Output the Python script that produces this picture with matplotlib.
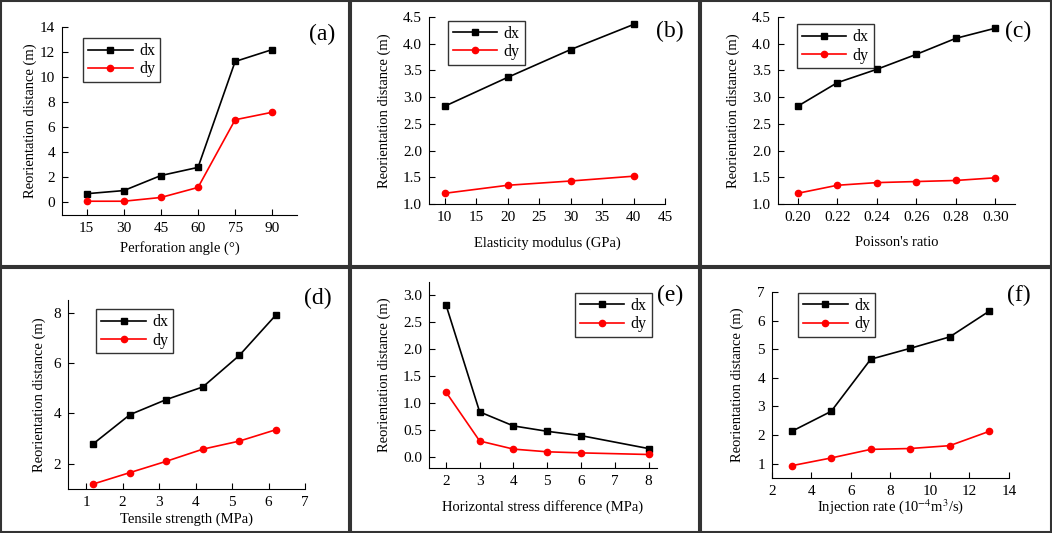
import matplotlib
matplotlib.use('Agg')
import matplotlib.pyplot as plt
from matplotlib.patches import Rectangle

plt.rcParams['font.family'] = ['Liberation Serif', 'DejaVu Serif']
plt.rcParams['font.size'] = 10
plt.rcParams['mathtext.fontset'] = 'stix'

# data
angle = [15, 30, 45, 60, 75, 90]
angle_dx = [0.7, 0.95, 2.15, 2.8, 11.25, 12.2]
angle_dy = [0.1, 0.1, 0.4, 1.2, 6.6, 7.2]

modulus = [10, 20, 30, 40]
modulus_dx = [2.83, 3.37, 3.89, 4.36]
modulus_dy = [1.2, 1.35, 1.43, 1.52]

poisson = [0.20, 0.22, 0.24, 0.26, 0.28, 0.30]
poisson_dx = [2.83, 3.27, 3.52, 3.80, 4.10, 4.29]
poisson_dy = [1.2, 1.35, 1.40, 1.42, 1.44, 1.49]

tensile = [1.2, 2.2, 3.2, 4.2, 5.2, 6.2]
tensile_dx = [2.8, 3.95, 4.55, 5.05, 6.3, 7.9]
tensile_dy = [1.2, 1.65, 2.1, 2.58, 2.9, 3.35]

stress = [2, 3, 4, 5, 6, 8]
stress_dx = [2.83, 0.84, 0.58, 0.48, 0.40, 0.16]
stress_dy = [1.21, 0.30, 0.15, 0.10, 0.08, 0.05]

rate = [3, 5, 7, 9, 11, 13]
rate_dx = [2.13, 2.83, 4.65, 5.03, 5.43, 6.33]
rate_dy = [0.93, 1.2, 1.5, 1.53, 1.63, 2.13]

fig = plt.figure(figsize=(10.52, 5.33), dpi=100)

panels = [
    # rect, x, dx, dy, xlabel, xlim, ylim, xticks, yticks, legend anchor, tag pos, tag, xpad, ypad
    ([0.0589, 0.5966, 0.2234, 0.3527], angle, angle_dx, angle_dy,
     'Perforation angle (°)', (5, 100), (-1, 14),
     angle, range(0, 15, 2), (0.09, 0.94), (0.306, 0.955), '(a)', 4.5, 2),
    ([0.4078, 0.6173, 0.2243, 0.3508], modulus, modulus_dx, modulus_dy,
     'Elasticity modulus (GPa)', (7.5, 45), (1.0, 4.5),
     range(10, 46, 5), [1.0, 1.5, 2.0, 2.5, 3.0, 3.5, 4.0, 4.5], (0.08, 0.98), (0.637, 0.96), '(b)', 9, 9),
    ([0.7395, 0.6173, 0.2253, 0.3508], poisson, poisson_dx, poisson_dy,
     "Poisson's ratio", (0.19, 0.31), (1.0, 4.5),
     poisson, [1.0, 1.5, 2.0, 2.5, 3.0, 3.5, 4.0, 4.5], (0.08, 0.96), (0.968, 0.96), '(c)', 9, 9),
    ([0.0646, 0.0826, 0.2253, 0.3546], tensile, tensile_dx, tensile_dy,
     'Tensile strength (MPa)', (0.5, 7), (1, 8.5),
     range(1, 8), [2, 4, 6, 8], (0.12, 0.95), (0.302, 0.46), '(d)', 2.5, 5.5),
    ([0.4078, 0.1220, 0.2167, 0.3490], stress, stress_dx, stress_dy,
     'Horizontal stress difference (MPa)', (1.5, 8.25), (-0.2, 3.25),
     range(2, 9), [0.0, 0.5, 1.0, 1.5, 2.0, 2.5, 3.0], (0.64, 0.94), (0.637, 0.465), '(e)', 9, 9),
    ([0.7338, 0.1032, 0.2253, 0.3490], rate, rate_dx, rate_dy,
     'Injection rate (10$^{-4}$m$^{3}$/s)', (2, 14), (0.5, 7),
     range(2, 15, 2), range(1, 8), (0.11, 0.995), (0.968, 0.465), '(f)', -0.5, 9.5),
]

for rect, x, dx, dy, xlabel, xlim, ylim, xt, yt, anchor, tagpos, tag, xpad, ypad in panels:
    ax = fig.add_axes(rect)
    ax.plot(x, dx, color='black', marker='s', ms=4.5, lw=1.2, label='dx')
    ax.plot(x, dy, color='red', marker='o', ms=4.5, lw=1.2, label='dy')
    ax.set_xlim(*xlim)
    ax.set_ylim(*ylim)
    ax.set_xticks(list(xt))
    ax.set_yticks(list(yt))
    if tag == '(c)':
        ax.set_xticklabels(['%.2f' % v for v in xt])
    if tag in ('(b)', '(c)', '(e)'):
        ax.set_yticklabels(['%.1f' % v for v in yt])
    ax.spines['top'].set_visible(False)
    ax.spines['right'].set_visible(False)
    ax.tick_params(direction='in', length=4, labelsize=11, pad=5)
    ax.set_xlabel(xlabel, fontsize=10.5, labelpad=xpad)
    ax.set_ylabel('Reorientation distance (m)', fontsize=10.5, labelpad=ypad)
    leg = ax.legend(loc='upper left', bbox_to_anchor=anchor, fancybox=False,
                    edgecolor='black', fontsize=11.5, handlelength=2.8,
                    handletextpad=0.4, borderaxespad=0, labelspacing=0.15,
                    borderpad=0.3)
    leg.get_frame().set_linewidth(1.0)
    fig.text(tagpos[0], tagpos[1], tag, fontsize=17, ha='center', va='top')

# panel frames
for x0, x1 in [(0, 350), (350, 700), (700, 1052)]:
    for y0, y1 in [(0, 266), (266, 533)]:
        fig.add_artist(Rectangle((x0 / 1052 + 0.001, y0 / 533 + 0.002),
                                 (x1 - x0) / 1052 - 0.002, (y1 - y0) / 533 - 0.004,
                                 transform=fig.transFigure, fill=False,
                                 edgecolor='#333333', lw=1.5))

fig.savefig('out.png', dpi=100)
